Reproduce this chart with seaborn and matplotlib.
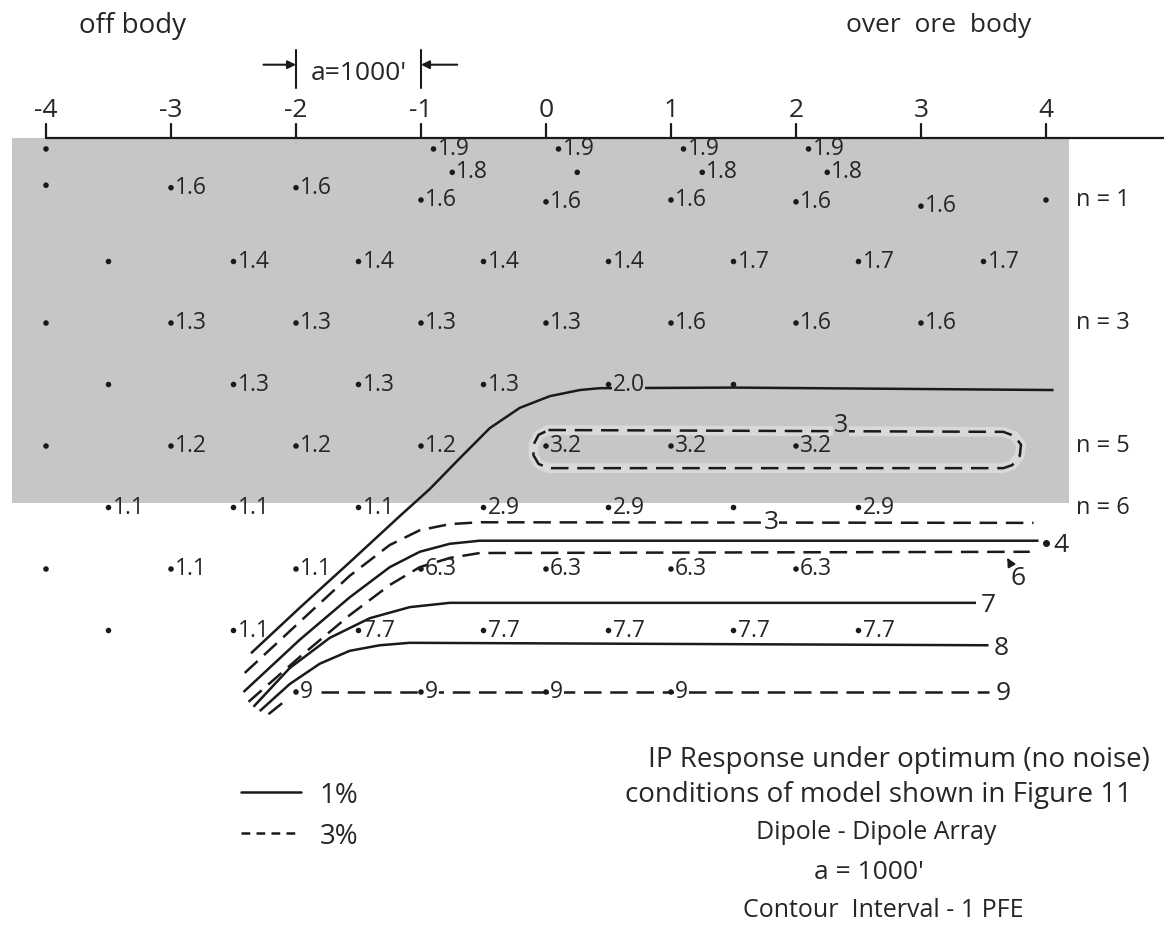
import matplotlib
matplotlib.use("Agg")
import matplotlib.pyplot as plt
import pandas as pd
import seaborn as sns

# ---- readings: station (in units of a) and plotted level n ----
ROW_19_X = [-4, -0.9, 0.1, 1.1, 2.1]
ROW_19_LAB = ["", "1.9", "1.9", "1.9", "1.9"]
ROW_18_X = [-0.75, 0.25, 1.25, 2.25]
ROW_18_LAB = ["1.8", "", "1.8", "1.8"]
N1_X = [-4, -3, -2, -1, 0, 1, 2, 3, 4]
N1_LEVEL = [0.76, 0.8, 0.8, 1.0, 1.03, 1.0, 1.03, 1.1, 1.0]
N1_LAB = ["", "1.6", "1.6", "1.6", "1.6", "1.6", "1.6", "1.6", ""]
N2_X = [-3.5, -2.5, -1.5, -0.5, 0.5, 1.5, 2.5, 3.5]
N2_LAB = ["", "1.4", "1.4", "1.4", "1.4", "1.7", "1.7", "1.7"]
N3_X = [-4, -3, -2, -1, 0, 1, 2, 3]
N3_LAB = ["", "1.3", "1.3", "1.3", "1.3", "1.6", "1.6", "1.6"]
N4_X = [-3.5, -2.5, -1.5, -0.5, 0.5, 1.5]
N4_LAB = ["", "1.3", "1.3", "1.3", "2.0", ""]
N5_X = [-4, -3, -2, -1, 0, 1, 2]
N5_LAB = ["", "1.2", "1.2", "1.2", "3.2", "3.2", "3.2"]
N6_X = [-3.5, -2.5, -1.5, -0.5, 0.5, 1.5, 2.5]
N6_LAB = ["1.1", "1.1", "1.1", "2.9", "2.9", "", "2.9"]
N7_X = [-4, -3, -2, -1, 0, 1, 2]
N7_LAB = ["", "1.1", "1.1", "6.3", "6.3", "6.3", "6.3"]
N8_X = [-3.5, -2.5, -1.5, -0.5, 0.5, 1.5, 2.5]
N8_LAB = ["", "1.1", "7.7", "7.7", "7.7", "7.7", "7.7"]
N9_X = [-2, -1, 0, 1]
N9_LAB = ["9", "9", "9", "9"]

STATIONS = [-4, -3, -2, -1, 0, 1, 2, 3, 4]
N_LABELS = [1, 3, 5, 6]

# ---- hand-drawn contours (station, n) ----
C2_X = [-2.36, -1.97, -1.57, -1.17, -0.93, -0.69, -0.45, -0.21, 0.03, 0.27, 0.43, 1.5, 4.06]
C2_N = [8.37, 7.63, 6.89, 6.14, 5.70, 5.20, 4.71, 4.38, 4.19, 4.09, 4.06, 4.05, 4.09]
C3_X = [-2.41, -1.97, -1.57, -1.25, -1.01, -0.77, -0.53, 3.90]
C3_N = [8.69, 7.86, 7.11, 6.61, 6.37, 6.27, 6.24, 6.25]
C4_X = [-2.42, -1.97, -1.57, -1.25, -1.01, -0.77, -0.53, 3.94]
C4_N = [9.00, 8.15, 7.46, 6.97, 6.72, 6.59, 6.54, 6.54]
C6_X = [-2.38, -1.97, -1.57, -1.25, -1.01, -0.77, -0.53, 3.87]
C6_N = [9.16, 8.43, 7.75, 7.26, 6.97, 6.82, 6.74, 6.72]
C7_X = [-2.34, -2.05, -1.73, -1.41, -1.09, -0.77, 3.44]
C7_N = [9.24, 8.61, 8.12, 7.80, 7.62, 7.55, 7.55]
C8_X = [-2.29, -2.05, -1.81, -1.57, -1.33, -1.09, 3.54]
C8_N = [9.31, 8.87, 8.54, 8.33, 8.24, 8.20, 8.24]
C9_X = [-1.80, 3.54]
C9_N = [9.0, 9.0]
C9_TAIL_X = [-2.22, -2.06]
C9_TAIL_N = [9.36, 9.10]
LOOP3_X = [0.02, 3.66, 3.75, 3.80, 3.79, 3.73, 3.66, 0.02, -0.06, -0.10, -0.10, -0.06, 0.02]
LOOP3_N = [4.74, 4.77, 4.84, 4.98, 5.16, 5.31, 5.36, 5.36, 5.29, 5.15, 4.98, 4.82, 4.74]

SHADE = "#c6c6c6"

sns.set_theme(style="white")
plt.rcParams["font.family"] = ["Open Sans", "DejaVu Sans"]

rows = [
    (ROW_19_X, [0.17] * len(ROW_19_X), ROW_19_LAB),
    (ROW_18_X, [0.55] * len(ROW_18_X), ROW_18_LAB),
    (N1_X, N1_LEVEL, N1_LAB),
    (N2_X, [2] * len(N2_X), N2_LAB),
    (N3_X, [3] * len(N3_X), N3_LAB),
    (N4_X, [4] * len(N4_X), N4_LAB),
    (N5_X, [5] * len(N5_X), N5_LAB),
    (N6_X, [6] * len(N6_X), N6_LAB),
    (N7_X, [7] * len(N7_X), N7_LAB),
    (N8_X, [8] * len(N8_X), N8_LAB),
    (N9_X, [9] * len(N9_X), N9_LAB),
]
df = pd.concat([pd.DataFrame({"x": x, "n": n, "label": lab}) for x, n, lab in rows],
               ignore_index=True)

fig = plt.figure(figsize=(11.64, 9.31), dpi=100)
ax = fig.add_axes([0, 0, 1, 1])

# shaded part of the section
ax.add_patch(plt.Rectangle((-4.27, 0), 8.45, 5.92, facecolor=SHADE, lw=0, zorder=0))

# surface line with station ticks
ax.plot([-4, 4.95], [0, 0], color="k", lw=1.6, zorder=2)
for s in STATIONS:
    ax.plot([s, s], [0, -0.23], color="k", lw=1.6)
    ax.text(s, -0.26, str(s), ha="center", va="bottom", fontsize=19)

# a = 1000' marker
for s in (-2, -1):
    ax.plot([s, s], [-1.44, -0.82], color="k", lw=1.5)
ax.annotate("", xy=(-2, -1.2), xytext=(-2.26, -1.2),
            arrowprops=dict(arrowstyle="-|>", color="k", lw=1.5, shrinkA=0, shrinkB=0))
ax.annotate("", xy=(-1, -1.2), xytext=(-0.71, -1.2),
            arrowprops=dict(arrowstyle="-|>", color="k", lw=1.5, shrinkA=0, shrinkB=0))
ax.text(-1.5, -1.05, "a=1000'", ha="center", va="center", fontsize=19)

ax.text(-3.31, -1.83, "off body", ha="center", va="center", fontsize=20)
ax.text(3.14, -1.83, "over  ore  body", ha="center", va="center", fontsize=19)

for n in N_LABELS:
    ax.text(4.24, n, f"n = {n}", ha="left", va="center", fontsize=17)

# readings
sns.scatterplot(data=df, x="x", y="n", color="k", s=16, edgecolor="none",
                legend=False, ax=ax, zorder=4)
for _, r in df.iterrows():
    if not r["label"]:
        continue
    bbox = None
    if r["label"] in ("2.0", "9"):
        bbox = dict(facecolor=SHADE if r["n"] < 5.9 else "white", edgecolor="none", pad=0.5)
    ax.annotate(r["label"], (r["x"], r["n"]), xytext=(3, 0), textcoords="offset points",
                ha="left", va="center", fontsize=16.5, bbox=bbox, zorder=5)

# contours
solid = dict(color="k", lw=1.8, solid_capstyle="butt", zorder=3)
dashed = dict(color="k", lw=1.8, dashes=(7, 3.5), zorder=3)
ax.plot(C2_X, C2_N, **solid)
ax.plot(C3_X, C3_N, **dashed)
ax.plot(C4_X, C4_N, **solid)
ax.plot(C6_X, C6_N, **dashed)
ax.plot(C7_X, C7_N, **solid)
ax.plot(C8_X, C8_N, **solid)
ax.plot(C9_X, C9_N, **dashed)
ax.plot(C9_TAIL_X, C9_TAIL_N, **dashed)
ax.plot(LOOP3_X, LOOP3_N, color="white", lw=7, alpha=0.35, zorder=2)
ax.plot(LOOP3_X, LOOP3_N, **dashed)

# contour values
ax.text(2.36, 4.66, "3", ha="center", va="center", fontsize=18,
        bbox=dict(facecolor=SHADE, edgecolor="none", pad=0.3), zorder=5)
ax.text(1.8, 6.25, "3", ha="center", va="center", fontsize=19,
        bbox=dict(facecolor="white", edgecolor="none", pad=0.5), zorder=5)
ax.scatter([4.0], [6.58], color="k", s=16, zorder=4)
ax.text(4.06, 6.62, "4", ha="left", va="center", fontsize=19)
ax.annotate("6", xy=(3.69, 6.82), xytext=(3.78, 7.15), ha="center", va="center",
            fontsize=19, arrowprops=dict(arrowstyle="-|>", color="k", lw=1.4,
                                         shrinkA=2, shrinkB=0, mutation_scale=12))
ax.text(3.48, 7.6, "7", ha="left", va="center", fontsize=19)
ax.text(3.58, 8.3, "8", ha="left", va="center", fontsize=19)
ax.text(3.6, 9.02, "9", ha="left", va="center", fontsize=19)

# legend
ax.plot([-2.44, -1.96], [10.63, 10.63], color="k", lw=1.8)
ax.plot([-2.44, -1.96], [11.29, 11.29], color="k", lw=1.8, dashes=(3.5, 2.5))
ax.text(-1.81, 10.69, "1%", ha="left", va="center", fontsize=20)
ax.text(-1.81, 11.35, "3%", ha="left", va="center", fontsize=20)

# caption
ax.text(2.82, 10.11, "IP Response under optimum (no noise)", ha="center", va="center", fontsize=20)
ax.text(2.66, 10.68, "conditions of model shown in Figure 11", ha="center", va="center", fontsize=20)
ax.text(2.64, 11.29, "Dipole - Dipole Array", ha="center", va="center", fontsize=18)
ax.text(2.58, 11.93, "a = 1000'", ha="center", va="center", fontsize=19)
ax.text(2.70, 12.55, "Contour  Interval - 1 PFE", ha="center", va="center", fontsize=18)

ax.set_xlim(-4.368, 4.944)
ax.set_ylim(12.886, -2.252)
ax.axis("off")

fig.savefig("out.png", dpi=100)
